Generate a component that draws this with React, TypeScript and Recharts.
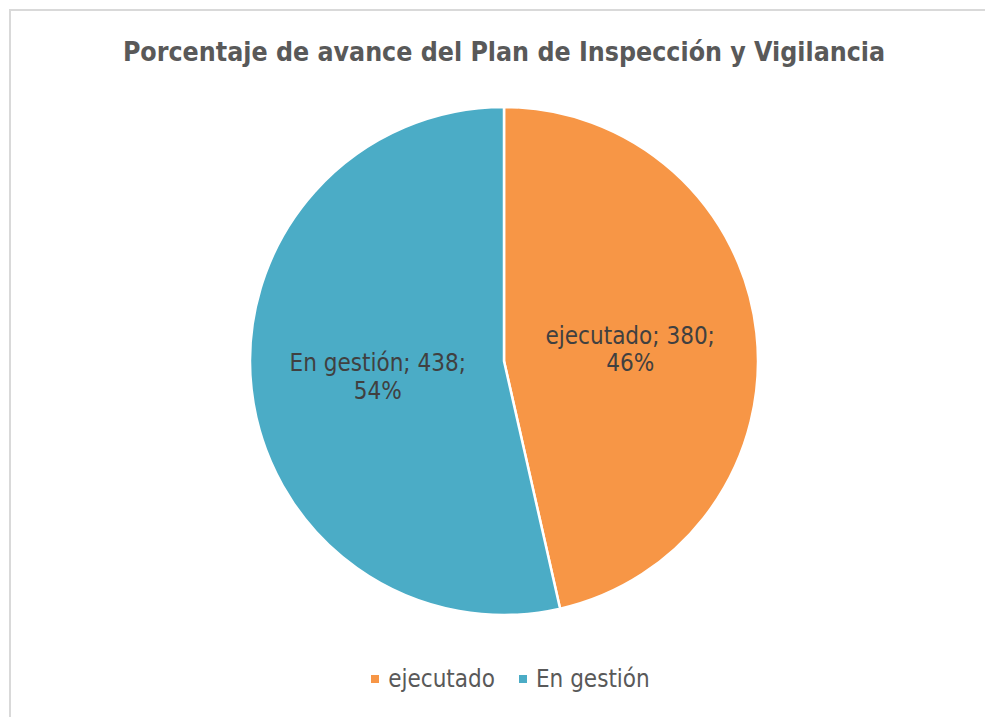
import React from "react";
import { PieChart, Pie, Cell } from "recharts";

const categories = ["ejecutado", "En gestión"];
const values = [380, 438];
const percents = ["46%", "54%"];
const colors = ["#F79646", "#4BACC6"];
const title = "Porcentaje de avance del Plan de Inspección y Vigilancia";

const data = categories.map((name, i) => ({ name, value: values[i], pct: percents[i] }));

const FONT = "'DejaVu Sans Condensed', 'DejaVu Sans', sans-serif";
const labelDy = [2, 1];

const renderLabel = (props: any) => {
  const { cx, cy, midAngle, outerRadius, index } = props;
  const RAD = Math.PI / 180;
  const r = outerRadius * 0.5;
  const x = cx + r * Math.cos(-midAngle * RAD);
  const y = cy + r * Math.sin(-midAngle * RAD) + labelDy[index];
  const d = data[index];
  return (
    <text x={x} y={y} textAnchor="middle" fill="#404040" fontSize={24} fontFamily={FONT}>
      <tspan x={x} dy="-0.2em">{`${d.name}; ${d.value};`}</tspan>
      <tspan x={x} dy={index === 0 ? "1.12em" : "1.17em"}>{d.pct}</tspan>
    </text>
  );
};

export default function App() {
  return (
    <div style={{ position: "fixed", left: 9, top: 9, width: 1000, height: 720 }}>
      <style>{"html,body{overflow:hidden;}"}</style>
      <div
        style={{
          position: "relative",
          width: 1000,
          height: 720,
          borderTop: "2px solid #d9d9d9",
          borderLeft: "2px solid #d9d9d9",
          boxSizing: "border-box",
          background: "#fff",
          overflow: "hidden",
        }}
      >
        <div
          style={{
            position: "absolute",
            left: 0,
            width: 986,
            top: 25,
            textAlign: "center",
            fontFamily: FONT,
            fontWeight: "bold",
            fontSize: 26.5,
            color: "#595959",
            whiteSpace: "nowrap",
          }}
        >
          {title}
        </div>
        <PieChart width={990} height={710}>
          <Pie
            data={data}
            dataKey="value"
            nameKey="name"
            cx={488}
            cy={345}
            outerRadius={254}
            startAngle={90}
            endAngle={-270}
            stroke="#ffffff"
            strokeWidth={2.5}
            labelLine={false}
            label={renderLabel}
            isAnimationActive={false}
          >
            {data.map((d, i) => (
              <Cell key={d.name} fill={colors[i]} />
            ))}
          </Pie>
        </PieChart>
        <div
          style={{
            position: "absolute",
            top: 654,
            left: 0,
            width: 999,
            display: "flex",
            justifyContent: "center",
            alignItems: "center",
            fontFamily: FONT,
            fontSize: 24,
            color: "#595959",
          }}
        >
          {data.map((d, i) => (
            <div key={d.name} style={{ display: "flex", alignItems: "center", marginRight: i === 0 ? 24 : 0 }}>
              <span style={{ display: "inline-block", width: 8, height: 8, background: colors[i], marginRight: 9 }} />
              <span>{d.name}</span>
            </div>
          ))}
        </div>
      </div>
    </div>
  );
}
